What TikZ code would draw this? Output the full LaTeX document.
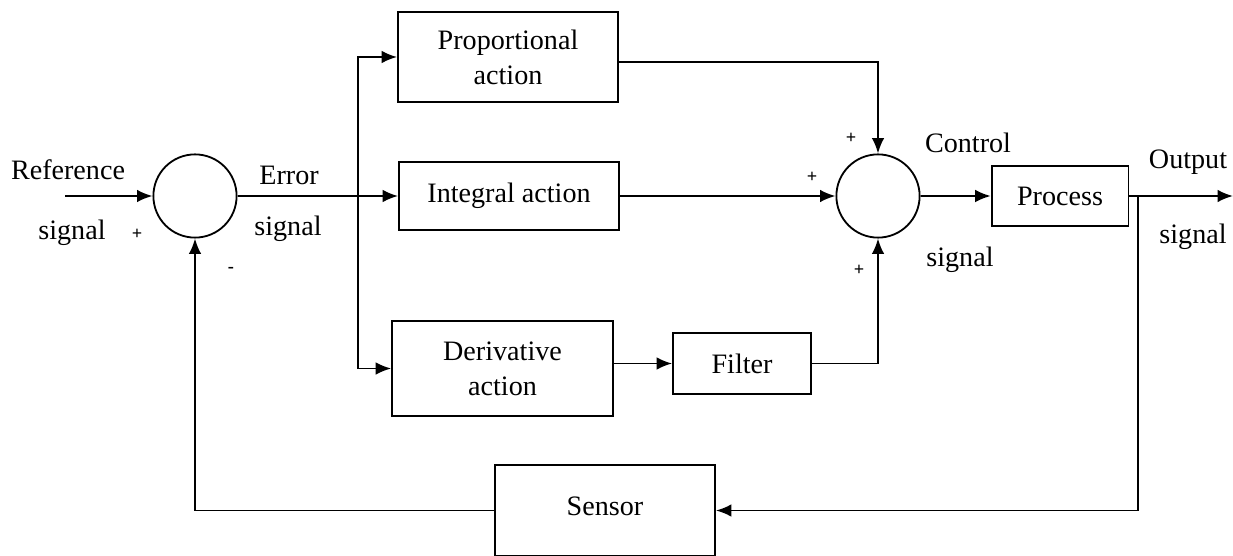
\documentclass[tikz,border=0pt]{standalone}
\usepackage{fontspec}
\setmainfont{Liberation Serif}
\usetikzlibrary{arrows.meta}

\tikzset{
    block/.style={draw, line width=1.3pt, rectangle, inner sep=0pt, align=center,
                  font=\fontsize{20}{25}\selectfont},
    sumnode/.style={draw, line width=1.3pt, circle, inner sep=0pt, minimum size=2.08cm},
    wire/.style={line width=1.4pt, -{Latex[length=11pt,width=9pt]}},
    label/.style={inner sep=0pt, font=\fontsize{20}{25}\selectfont},
    sign/.style={inner sep=0pt, font=\fontsize{13}{15}\selectfont\bfseries}
}

\begin{document}
\begin{tikzpicture}[x=0.025cm, y=-0.025cm]
        \useasboundingbox (0,0) rectangle (1233,556);

        % summing junctions
        \node[sumnode] (sumerr) at (195,196) {};
        \node[sumnode] (sumctl) at (878,196) {};

        % PID branches
        \node[block, minimum width=5.5cm, minimum height=2.25cm] (prop) at (508,57) {Proportional\\action};
        \node[block, minimum width=5.5cm, minimum height=1.68cm] (integ) at (509,196) {Integral action};
        \node[block, minimum width=5.52cm, minimum height=2.38cm] (deriv) at (502.5,368.5) {Derivative\\action};
        \node[block, minimum width=3.45cm, minimum height=1.52cm] (filter) at (742,363.5) {Filter};

        % plant and feedback
        \node[block, minimum width=3.42cm, minimum height=1.5cm] (process) at (1060,196) {Process};
        \node[block, minimum width=5.5cm, minimum height=2.28cm] (sensor) at (605,510.5) {\raisebox{0.2cm}{Sensor}};

        % free ends and branch points
        \coordinate (refin) at (65,196);
        \coordinate (split) at (358,196);
        \coordinate (tap) at (1138,196);
        \coordinate (out) at (1233,196);

        % connectors
        \draw[wire] (refin) -- (sumerr.west);
        \draw[wire] (sumerr.east) -- (integ.west);
        \draw[wire] (split) |- (prop.west);
        \draw[wire] (split) |- (deriv.west);
        \draw[wire] ([yshift=-0.12cm]prop.east) -| (sumctl.north);
        \draw[wire] (integ.east) -- (sumctl.west);
        \draw[wire] (deriv.east |- filter.west) -- (filter.west);
        \draw[wire] (filter.east) -| (sumctl.south);
        \draw[wire] (sumctl.east) -- (process.west);
        \draw[wire] (process.east) -- (out);
        \draw[wire] (tap) |- (sensor.east);
        \draw[wire] (sensor.west) -| (sumerr.south);

        % signal names
        \node[label] (lref) at (68,170) {Reference};
        \node[label] (lrefs) at (72,233) {signal};
        \node[label] (lerr) at (289,175) {Error};
        \node[label] (lerrs) at (288,229) {signal};
        \node[label] (lctl) at (968,143) {Control};
        \node[label] (lctls) at (960,260) {signal};
        \node[label] (lout) at (1188,162) {Output};
        \node[label] (louts) at (1193,237) {signal};

        % signs
        \node[sign] (p1) at (137,234) {+};
        \node[sign] (m1) at (231,270) {-};
        \node[sign] (p2) at (851,138) {+};
        \node[sign] (p3) at (812,177) {+};
        \node[sign] (p4) at (859,270) {+};
    \end{tikzpicture}
\end{document}
